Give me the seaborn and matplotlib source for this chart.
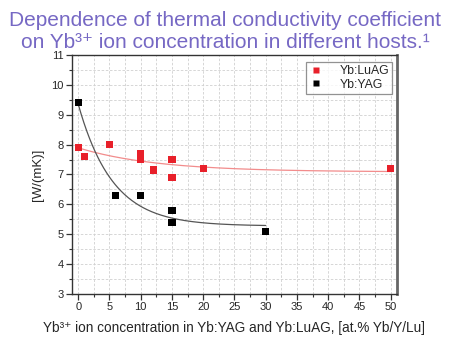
import numpy as np
import pandas as pd
import matplotlib
matplotlib.use("Agg")
import matplotlib.pyplot as plt
import seaborn as sns
from matplotlib.ticker import MultipleLocator

# ---- data ----
luag_x = [0, 1, 5, 10, 10, 12, 15, 15, 20, 50]
luag_y = [7.9, 7.6, 8.0, 7.7, 7.5, 7.15, 7.5, 6.9, 7.2, 7.2]
yag_x = [0, 6, 10, 15, 15, 30]
yag_y = [9.4, 6.3, 6.3, 5.8, 5.4, 5.1]
series_names = ["Yb:LuAG", "Yb:YAG"]
x_ticks = [0, 5, 10, 15, 20, 25, 30, 35, 40, 45, 50]
y_ticks = [3, 4, 5, 6, 7, 8, 9, 10, 11]

title_text = ("Dependence of thermal conductivity coefficient\n"
              "on Yb³⁺ ion concentration in different hosts.¹")
xlabel_text = "Yb³⁺ ion concentration in Yb:YAG and Yb:LuAG, [at.% Yb/Y/Lu]"
ylabel_text = "[W/(mK)]"


def expdec_fit(x, y):
    """Least-squares fit y = y0 + A*exp(-x/t) (grid over t, linear in y0, A)."""
    x = np.asarray(x, float)
    y = np.asarray(y, float)
    best = None
    for t in np.linspace(0.5, 60, 4000):
        M = np.column_stack([np.ones_like(x), np.exp(-x / t)])
        coef, *_ = np.linalg.lstsq(M, y, rcond=None)
        sse = np.sum((M @ coef - y) ** 2)
        if best is None or sse < best[0]:
            best = (sse, coef[0], coef[1], t)
    return best[1:]


df = pd.DataFrame({
    "x": luag_x + yag_x,
    "y": luag_y + yag_y,
    "host": [series_names[0]] * len(luag_x) + [series_names[1]] * len(yag_x),
})

sns.set_theme(style="white")
plt.rcParams["font.family"] = ["Liberation Sans", "DejaVu Sans"]

fig = plt.figure(figsize=(4.5, 3.43), dpi=100)
ax = fig.add_axes([0.16, 0.1429, 0.722, 0.6968])

# fitted curves
for xs, ys, xmax, col in [(luag_x, luag_y, max(luag_x), "#f28c8c"),
                          (yag_x, yag_y, max(yag_x), "#555555")]:
    y0, A, t = expdec_fit(xs, ys)
    xf = np.linspace(0, xmax, 200)
    fit_df = pd.DataFrame({"x": xf, "y": y0 + A * np.exp(-xf / t)})
    sns.lineplot(data=fit_df, x="x", y="y", ax=ax, color=col, lw=0.9,
                 legend=False, zorder=2)

sns.scatterplot(data=df, x="x", y="y", hue="host", hue_order=series_names,
                palette=["#e8202a", "#000000"], marker="s", s=28,
                edgecolor="none", ax=ax, zorder=3)

ax.set_xlim(-1, 51)
ax.set_ylim(3, 11)
ax.set_xticks(x_ticks)
ax.set_yticks(y_ticks)
ax.xaxis.set_minor_locator(MultipleLocator(2.5))
ax.yaxis.set_minor_locator(MultipleLocator(0.5))
ax.grid(which="both", linestyle="--", color="#d0d0d0", linewidth=0.6, dashes=(3, 2))
ax.tick_params(which="major", direction="out", length=4, width=0.9,
               labelsize=8, color="#333333", pad=2, bottom=True, left=True)
ax.tick_params(which="minor", direction="out", length=2, width=0.8,
               color="#333333", bottom=True, left=True)
for side in ["left", "bottom", "top"]:
    ax.spines[side].set_color("#333333")
    ax.spines[side].set_linewidth(1.0)
ax.spines["right"].set_color("#666666")
ax.spines["right"].set_linewidth(2.0)

ax.set_xlabel(xlabel_text, fontsize=9.8, labelpad=6)
ax.set_ylabel(ylabel_text, fontsize=9.5, labelpad=5)

leg = ax.legend(loc="upper right", fontsize=8.8, frameon=True, fancybox=False,
                borderpad=0.25, handletextpad=1.3, handlelength=1.2,
                markerscale=0.7, labelspacing=0.12,
                bbox_to_anchor=(0.985, 0.97), borderaxespad=0)
leg.get_frame().set_edgecolor("#777777")
leg.get_frame().set_linewidth(0.9)
leg.set_title(None)

fig.text(0.5, 0.968, title_text, ha="center", va="top", fontsize=15,
         color="#7668c4", linespacing=1.2)

fig.savefig("out.png", dpi=100)
